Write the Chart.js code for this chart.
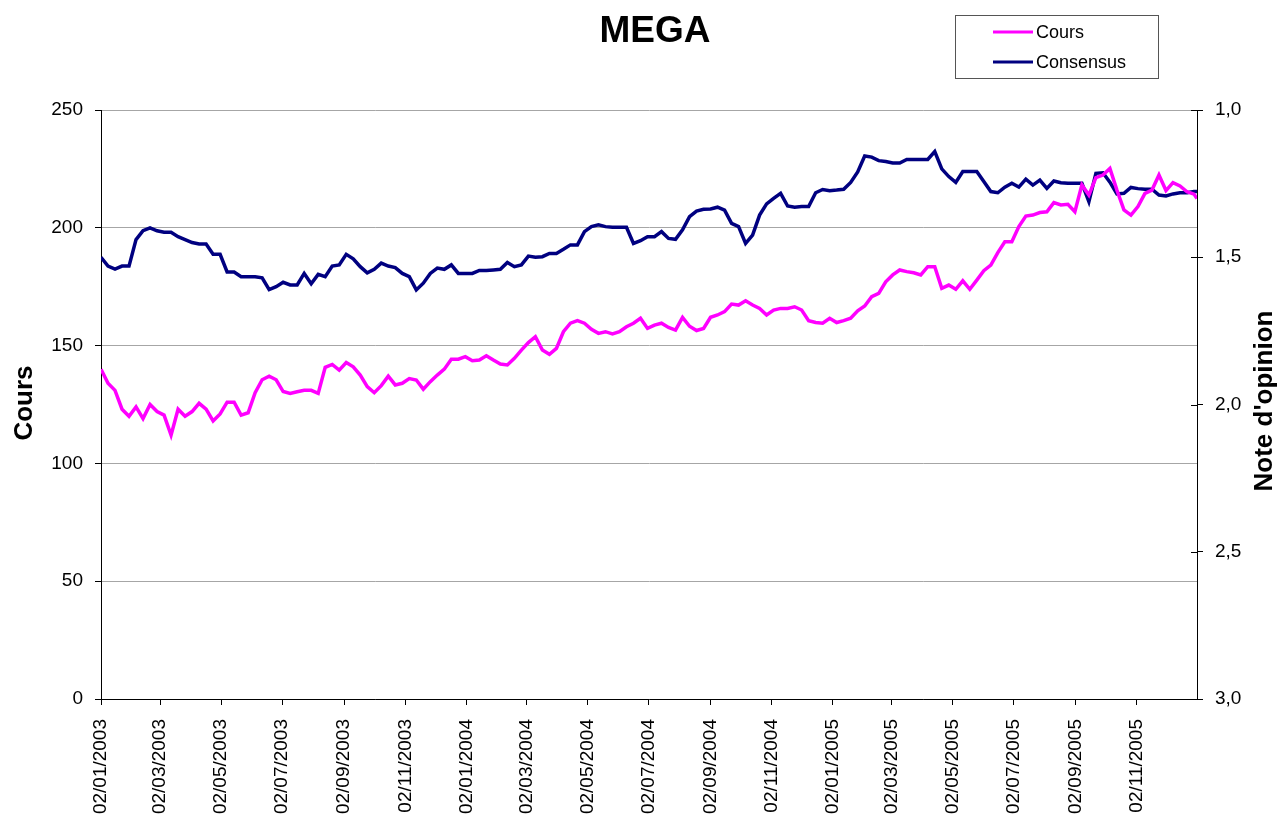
<!DOCTYPE html>
<html>
<head>
<meta charset="utf-8">
<title>MEGA</title>
<script src="https://cdn.jsdelivr.net/npm/chart.js@4.4.1/dist/chart.umd.min.js"></script>
<style>
  html, body { margin: 0; padding: 0; background: #fff; }
  #wrap { width: 1277px; height: 820px; }
</style>
</head>
<body>
<div id="wrap"><canvas id="chart" width="1277" height="820"></canvas></div>
<script>
// tick labels on the date axis (every two months)
const tickLabels = [
  '02/01/2003', '02/03/2003', '02/05/2003', '02/07/2003', '02/09/2003', '02/11/2003',
  '02/01/2004', '02/03/2004', '02/05/2004', '02/07/2004', '02/09/2004', '02/11/2004',
  '02/01/2005', '02/03/2005', '02/05/2005', '02/07/2005', '02/09/2005', '02/11/2005'
];

// weekly samples starting 02/01/2003, plus the last day shown
const weekCount = 157;
const lastDay = 1095;

const cours = [
  140, 134, 131, 123, 120, 124, 119, 125, 122, 120.5,
  112, 123, 120, 122, 125.5, 123, 118, 121, 126, 126,
  120.5, 121.5, 130, 135.5, 137, 135.5, 130.5, 129.7, 130.4, 131,
  131, 129.7, 140.8, 142, 139.6, 142.8, 141, 137.5, 132.6, 130,
  133, 137, 133.3, 134, 136, 135.4, 131.5, 134.7, 137.5, 140,
  144.2, 144.2, 145.3, 143.6, 143.9, 145.7, 143.9, 142.2, 141.8, 144.6,
  148.1, 151.3, 153.8, 148.1, 146.3, 148.8, 155.9, 159.5, 160.6, 159.5,
  156.9, 155.2, 155.9, 155, 155.9, 158, 159.5, 161.6, 157.3, 158.7,
  159.5, 157.7, 156.6, 162, 158.2, 156.4, 157.3, 162, 163, 164.4,
  167.6, 167.2, 169, 167.2, 165.8, 163, 165.1, 165.8, 165.8, 166.5,
  165.1, 160.6, 159.8, 159.5, 161.6, 159.8, 160.6, 161.6, 164.8, 166.8,
  170.8, 172.2, 177.1, 180, 182.1, 181.4, 180.9, 180, 183.5, 183.5,
  174.3, 175.7, 173.9, 177.5, 173.9, 177.8, 181.8, 184.2, 189.5, 194.1,
  194.1, 200.5, 205, 205.4, 206.5, 206.8, 210.7, 209.7, 210, 206.8,
  218.2, 213.9, 221.3, 222.4, 225.2, 216, 207.6, 205.4, 209, 214.6,
  216, 222.4, 215.8, 219.2, 217.8, 215.3, 214.3, 212.4
];

const consensus = [
  1.50, 1.53, 1.54, 1.53, 1.53, 1.44, 1.41, 1.40, 1.41, 1.415,
  1.415, 1.43, 1.44, 1.45, 1.455, 1.455, 1.49, 1.49, 1.55, 1.55,
  1.566, 1.566, 1.566, 1.57, 1.61, 1.60, 1.585, 1.594, 1.594, 1.555,
  1.59, 1.558, 1.566, 1.53, 1.526, 1.49, 1.505, 1.532, 1.553, 1.541,
  1.52, 1.53, 1.535, 1.555, 1.566, 1.611, 1.588, 1.555, 1.537, 1.541,
  1.526, 1.555, 1.555, 1.555, 1.545, 1.545, 1.543, 1.541, 1.518, 1.532,
  1.526, 1.496, 1.5, 1.498, 1.487, 1.487, 1.473, 1.458, 1.458, 1.413,
  1.396, 1.39, 1.396, 1.398, 1.398, 1.398, 1.453, 1.444, 1.43, 1.43,
  1.413, 1.436, 1.439, 1.407, 1.362, 1.343, 1.337, 1.336, 1.33, 1.34,
  1.385, 1.396, 1.453, 1.425, 1.357, 1.319, 1.30, 1.283, 1.326, 1.33,
  1.328, 1.328, 1.281, 1.27, 1.274, 1.272, 1.269, 1.246, 1.21, 1.156,
  1.16, 1.172, 1.175, 1.18, 1.18, 1.168, 1.168, 1.168, 1.168, 1.141,
  1.2, 1.226, 1.246, 1.209, 1.209, 1.209, 1.243, 1.277, 1.281, 1.262,
  1.249, 1.262, 1.235, 1.255, 1.238, 1.266, 1.241, 1.247, 1.249, 1.249,
  1.249, 1.311, 1.215, 1.213, 1.245, 1.285, 1.283, 1.263, 1.267, 1.269,
  1.269, 1.289, 1.292, 1.285, 1.281, 1.281, 1.277, 1.277
];

const FONT = "'Liberation Sans', Arial, sans-serif";
const MAGENTA = '#ff00ff';
const NAVY = '#000080';

const origin = Date.UTC(2003, 0, 2);
function dayOf(label) {
  const [d, m, y] = label.split('/').map(Number);
  return Math.round((Date.UTC(y, m - 1, d) - origin) / 86400000);
}
const tickDays = tickLabels.map(dayOf);
const labelByDay = {};
tickDays.forEach((d, i) => { labelByDay[d] = tickLabels[i]; });

const sampleDays = [];
for (let i = 0; i < weekCount; i++) sampleDays.push(i * 7);
sampleDays.push(lastDay);

const toPoints = (values) => values.map((v, i) => ({ x: sampleDays[i], y: v }));

// titre, titres d'axes et legende dessines a la main
const decorations = {
  id: 'decorations',
  afterDraw(chart) {
    const ctx = chart.ctx;
    ctx.save();
    ctx.fillStyle = '#000';

    ctx.font = `bold 37px ${FONT}`;
    ctx.textAlign = 'center';
    ctx.textBaseline = 'alphabetic';
    ctx.fillText('MEGA', 655, 42);

    ctx.font = `bold 26px ${FONT}`;
    ctx.save();
    ctx.translate(32, 403);
    ctx.rotate(-Math.PI / 2);
    ctx.fillText('Cours', 0, 0);
    ctx.restore();

    ctx.save();
    ctx.translate(1272, 401);
    ctx.rotate(-Math.PI / 2);
    ctx.fillText("Note d'opinion", 0, 0);
    ctx.restore();

    // petites graduations croisees sur l'axe de droite
    const right = chart.scales.y2;
    ctx.strokeStyle = '#000';
    ctx.lineWidth = 1;
    right.ticks.forEach((t) => {
      const py = Math.round(right.getPixelForValue(t.value)) + 0.5;
      ctx.beginPath();
      ctx.moveTo(right.left - 6, py);
      ctx.lineTo(right.left, py);
      ctx.stroke();
    });

    // legende
    ctx.strokeStyle = '#555';
    ctx.lineWidth = 1;
    ctx.fillStyle = '#fff';
    ctx.fillRect(955.5, 15.5, 203, 63);
    ctx.strokeRect(955.5, 15.5, 203, 63);
    ctx.font = `18px ${FONT}`;
    ctx.textAlign = 'left';
    ctx.textBaseline = 'middle';
    chart.data.datasets.forEach((ds, i) => {
      const y = 32 + i * 30;
      ctx.strokeStyle = ds.borderColor;
      ctx.lineWidth = 3;
      ctx.beginPath();
      ctx.moveTo(993, y);
      ctx.lineTo(1033, y);
      ctx.stroke();
      ctx.fillStyle = '#000';
      ctx.fillText(ds.label, 1036, y + 1);
    });
    ctx.restore();
  }
};

new Chart(document.getElementById('chart'), {
  type: 'line',
  data: {
    datasets: [
      {
        label: 'Cours',
        data: toPoints(cours),
        yAxisID: 'y',
        borderColor: MAGENTA,
        backgroundColor: MAGENTA,
        borderWidth: 3.5,
        pointRadius: 0,
        tension: 0
      },
      {
        label: 'Consensus',
        data: toPoints(consensus),
        yAxisID: 'y2',
        borderColor: NAVY,
        backgroundColor: NAVY,
        borderWidth: 3.5,
        pointRadius: 0,
        tension: 0
      }
    ]
  },
  options: {
    responsive: false,
    animation: false,
    layout: { padding: { top: 110, left: 0, right: 0, bottom: 0 } },
    plugins: {
      legend: { display: false },
      title: { display: false },
      tooltip: { enabled: false }
    },
    scales: {
      x: {
        type: 'linear',
        position: 'bottom',
        min: 0,
        max: lastDay,
        afterBuildTicks: (scale) => {
          scale.ticks = tickDays.map((v) => ({ value: v }));
        },
        afterFit: (scale) => { scale.height = 121; },
        ticks: {
          autoSkip: false,
          maxRotation: 90,
          minRotation: 90,
          padding: 14,
          color: '#000',
          font: { family: FONT, size: 19 },
          callback: (v) => labelByDay[v] || ''
        },
        grid: { drawOnChartArea: false, tickLength: 6, tickColor: '#000' },
        border: { color: '#000', width: 1 }
      },
      y: {
        position: 'left',
        min: 0,
        max: 250,
        afterFit: (scale) => { scale.width = 101; },
        ticks: {
          stepSize: 50,
          padding: 12,
          color: '#000',
          font: { family: FONT, size: 19 }
        },
        grid: { color: '#a6a6a6', tickColor: '#000', tickLength: 6 },
        border: { color: '#000', width: 1 }
      },
      y2: {
        position: 'right',
        reverse: true,
        min: 1,
        max: 3,
        afterFit: (scale) => { scale.width = 80; },
        ticks: {
          stepSize: 0.5,
          padding: 12,
          color: '#000',
          font: { family: FONT, size: 19 },
          callback: (v) => v.toFixed(1).replace('.', ',')
        },
        grid: { drawOnChartArea: false, tickColor: '#000', tickLength: 6 },
        border: { color: '#000', width: 1 }
      }
    }
  },
  plugins: [decorations]
});
</script>
</body>
</html>
